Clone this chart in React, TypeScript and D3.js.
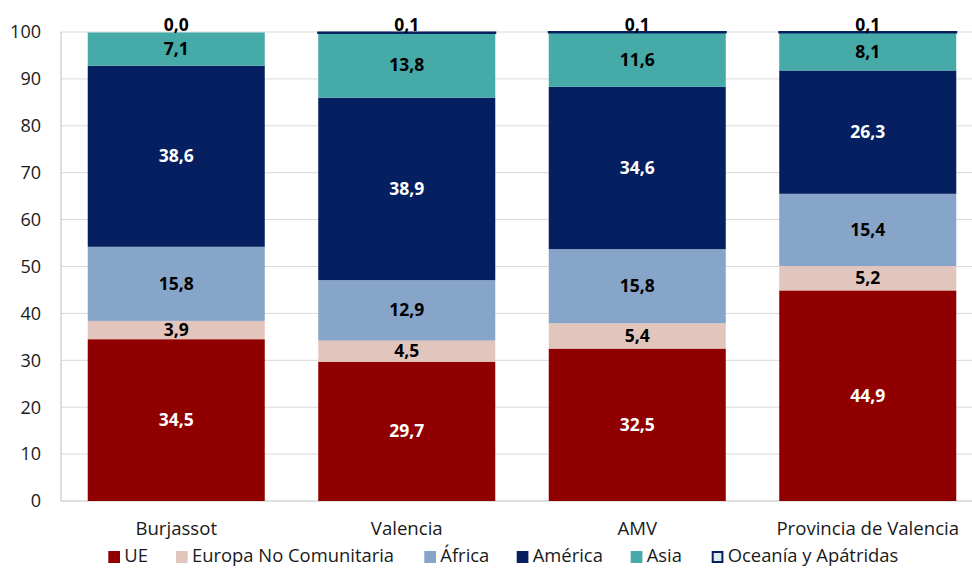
import React from "react";
import * as d3 from "d3";

const categories = ["Burjassot", "Valencia", "AMV", "Provincia de Valencia"];
const seriesNames = ["UE", "Europa No Comunitaria", "África", "América", "Asia", "Oceanía y Apátridas"];
const ue = [34.5, 29.7, 32.5, 44.9];
const europaNoCom = [3.9, 4.5, 5.4, 5.2];
const africa = [15.8, 12.9, 15.8, 15.4];
const america = [38.6, 38.9, 34.6, 26.3];
const asia = [7.1, 13.8, 11.6, 8.1];
const oceania = [0.0, 0.1, 0.1, 0.1];
const yTicks = [0, 10, 20, 30, 40, 50, 60, 70, 80, 90, 100];

const seriesValues = [ue, europaNoCom, africa, america, asia, oceania];
const fills = ["#900000", "#e2c6bd", "#87a5c8", "#061f60", "#45aaa8", "#dceeee"];
const labelColors = ["#ffffff", "#000000", "#000000", "#ffffff", "#000000", "#000000"];
const legendX = [108.3, 176, 424.3, 516.7, 630.7, 711.7];

const W = 972;
const H = 568;
const FONT = "'Open Sans', 'Noto Sans', sans-serif";

export default function App() {
  const x = d3.scaleBand<string>().domain(categories).range([61, 983]).paddingInner(0.232).paddingOuter(0.116);
  const y = d3.scaleLinear().domain([0, 100]).range([501, 32]);
  const fmt = (v: number) => v.toFixed(1).replace(".", ",");

  return (
    <svg width={W} height={H} style={{ position: "absolute", left: 0, top: 0, display: "block" }} fontFamily={FONT}>
      <rect x={0} y={0} width={W} height={H} fill="#ffffff" />
      {yTicks.map((t) => (
        <g key={t}>
          <line x1={61} x2={983} y1={y(t)} y2={y(t)} stroke={t === 0 ? "#bfbfbf" : "#d9d9d9"} strokeWidth={1} />
          <text x={41} y={y(t)} dy="0.35em" textAnchor="end" fontSize={18} fill="#1a1a1a">
            {t}
          </text>
        </g>
      ))}
      <line x1={61} x2={61} y1={32} y2={501} stroke="#bfbfbf" strokeWidth={1} />
      {categories.map((c, ci) => {
        let cum = 0;
        const bx = x(c) as number;
        const bw = x.bandwidth();
        return (
          <g key={c}>
            {seriesValues.map((vals, si) => {
              const v = vals[ci];
              const y0 = y(cum);
              const y1 = y(cum + v);
              cum += v;
              const isOce = si === 5;
              return (
                <g key={si}>
                  <rect
                    x={bx}
                    y={y1}
                    width={bw}
                    height={Math.max(0, y0 - y1)}
                    fill={isOce ? "#061f60" : fills[si]}
                    stroke={isOce && v > 0 ? "#061f60" : "none"}
                    strokeWidth={isOce ? 2 : 0}
                  />
                  <text
                    x={bx + bw / 2}
                    y={isOce ? y1 - 1.5 : (y0 + y1) / 2}
                    dy={isOce ? 0 : "0.35em"}
                    textAnchor="middle"
                    fontSize={17.5}
                    fontWeight={700}
                    fill={labelColors[si]}
                  >
                    {fmt(v)}
                  </text>
                </g>
              );
            })}
            <text x={bx + bw / 2} y={528} dy="0.35em" textAnchor="middle" fontSize={18.6} fill="#1a1a1a">
              {c}
            </text>
          </g>
        );
      })}
      {seriesNames.map((n, i) => (
        <g key={n}>
          <rect
            x={legendX[i] + (i === 5 ? 1 : 0)}
            y={551 + (i === 5 ? 1 : 0)}
            width={i === 5 ? 9.7 : 11.7}
            height={i === 5 ? 10 : 12}
            fill={fills[i]}
            stroke={i === 5 ? "#061f60" : "none"}
            strokeWidth={i === 5 ? 2 : 0}
          />
          <text x={legendX[i] + 16} y={556} dy="0.35em" fontSize={18.4} fill="#1a1a1a">
            {n}
          </text>
        </g>
      ))}
    </svg>
  );
}
